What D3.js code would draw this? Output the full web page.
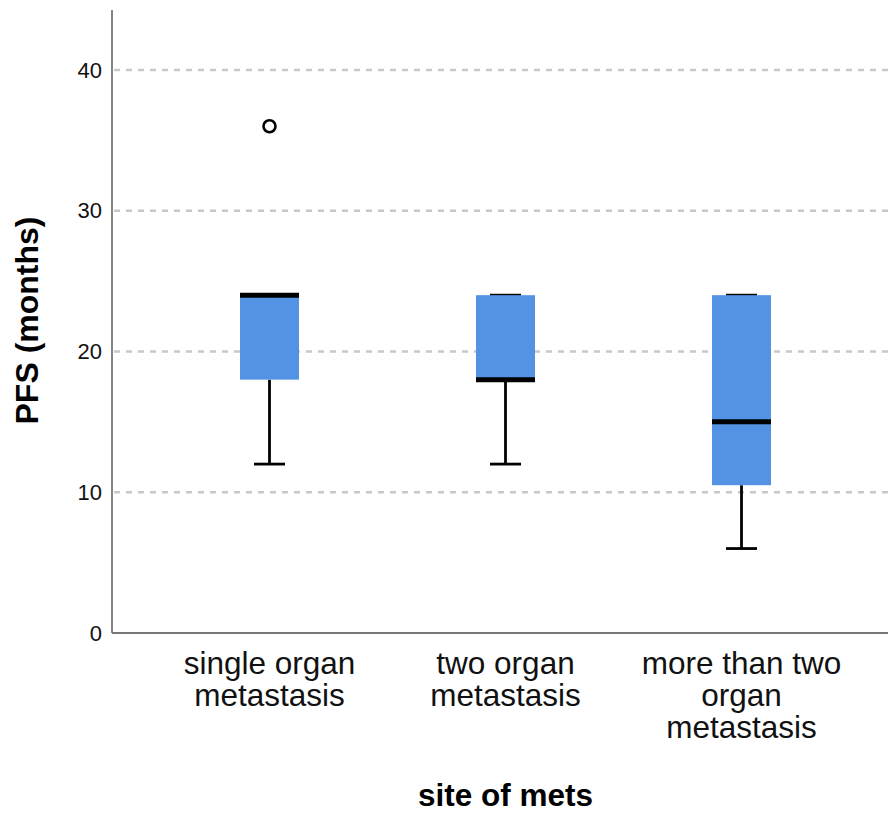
<!DOCTYPE html>
<html><head><meta charset="utf-8">
<script src="https://cdn.jsdelivr.net/npm/d3@7"></script>
<style>body{margin:0;background:#fff}svg{display:block}text{font-family:"Liberation Sans",Arial,sans-serif}</style>
</head><body>
<svg id="c" width="888" height="814"></svg>
<script>
const categories = [["single organ","metastasis"],["two organ","metastasis"],["more than two","organ","metastasis"]];
const whiskerLow = [12, 12, 6];
const q1 = [18, 18, 10.5];
const median = [24, 18, 15];
const q3 = [24, 24, 24];
const whiskerHigh = [24, 24, 24];
const outliers = [[36], [], []];
const yTicks = [0, 10, 20, 30, 40];
const yLabel = "PFS (months)";
const xLabel = "site of mets";

(function () {
const svg = d3.select("#c");
const mLeft = 112, mRight = 888, mTop = 10, mBottom = 633;
const y = d3.scaleLinear().domain([0, 44.26]).range([mBottom, mTop]);
const x = d3.scaleBand().domain(d3.range(categories.length)).range([151.5, 859.5]);
const bw = 59, cw = 31;

svg.append("g").selectAll("line").data(yTicks.filter(d => d > 0)).join("line")
  .attr("x1", mLeft + 2).attr("x2", mRight).attr("y1", d => y(d)).attr("y2", d => y(d))
  .attr("stroke", "#c8c8c8").attr("stroke-width", 2.5).attr("stroke-dasharray", "6,6");

const ya = d3.axisLeft(y).tickValues(yTicks).tickSize(0).tickPadding(10);
const gy = svg.append("g").attr("transform", `translate(${mLeft},0)`).call(ya);
gy.select(".domain").remove();
gy.selectAll("text").attr("font-size", 22).attr("fill", "#111").attr("font-family", "Liberation Sans, Arial, sans-serif");
svg.append("line").attr("x1", mLeft).attr("x2", mLeft).attr("y1", mTop).attr("y2", mBottom).attr("stroke", "#777").attr("stroke-width", 1.8);
svg.append("line").attr("x1", mLeft).attr("x2", mRight).attr("y1", mBottom).attr("y2", mBottom).attr("stroke", "#777").attr("stroke-width", 1.8);

const g = svg.append("g");
categories.forEach((c, i) => {
  const cx = x(i) + x.bandwidth() / 2;
  g.append("line").attr("x1", cx).attr("x2", cx).attr("y1", y(whiskerLow[i])).attr("y2", y(q1[i])).attr("stroke", "#000").attr("stroke-width", 2.8);
  g.append("line").attr("x1", cx).attr("x2", cx).attr("y1", y(whiskerHigh[i])).attr("y2", y(q3[i])).attr("stroke", "#000").attr("stroke-width", 2.8);
  [whiskerLow[i], whiskerHigh[i]].forEach(v => {
    g.append("line").attr("x1", cx - cw / 2).attr("x2", cx + cw / 2).attr("y1", y(v)).attr("y2", y(v)).attr("stroke", "#000").attr("stroke-width", 2.8);
  });
  g.append("rect").attr("x", cx - bw / 2).attr("width", bw).attr("y", y(q3[i])).attr("height", y(q1[i]) - y(q3[i]))
    .attr("fill", "#5393e3");
  g.append("line").attr("x1", cx - bw / 2).attr("x2", cx + bw / 2).attr("y1", y(median[i])).attr("y2", y(median[i])).attr("stroke", "#000").attr("stroke-width", 5);
  outliers[i].forEach(v => {
    g.append("circle").attr("cx", cx).attr("cy", y(v)).attr("r", 6).attr("fill", "none").attr("stroke", "#000").attr("stroke-width", 2.6);
  });
  const t = svg.append("text").attr("text-anchor", "middle").attr("font-size", 31.5).attr("fill", "#111");
  c.forEach((line, k) => t.append("tspan").attr("x", cx).attr("y", 674 + k * 32).text(line));
});

svg.append("text").attr("transform", `translate(38,320.5) rotate(-90)`).attr("text-anchor", "middle")
  .attr("font-size", 32).attr("font-weight", "bold").attr("fill", "#000").text(yLabel);
svg.append("text").attr("x", (x.range()[0] + x.range()[1]) / 2).attr("y", 806).attr("text-anchor", "middle")
  .attr("font-size", 31.5).attr("font-weight", "bold").attr("fill", "#000").text(xLabel);
})();
</script>
</body></html>
